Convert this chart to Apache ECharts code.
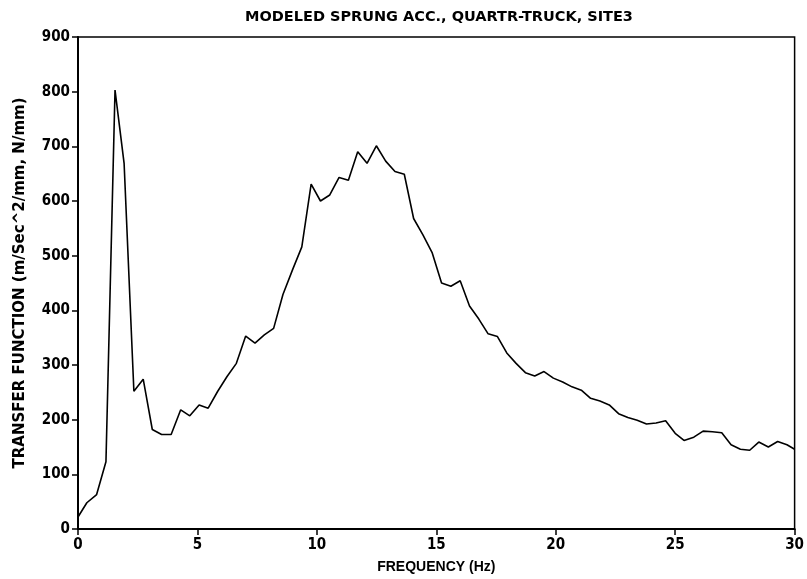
<!DOCTYPE html>
<html>
<head>
<meta charset="utf-8">
<script src="https://cdn.jsdelivr.net/npm/echarts@6/dist/echarts.min.js"></script>
<style>
html,body{margin:0;padding:0;background:#fff;}
#chart{width:807px;height:579px;}
</style>
</head>
<body>
<div id="chart"></div>
<script>
const titleText = "MODELED SPRUNG ACC., QUARTR-TRUCK, SITE3";
const xName = "FREQUENCY (Hz)";
const yName = "TRANSFER FUNCTION (m/Sec^2/mm, N/mm)";

const freq = [0, 0.37, 0.78, 1.17, 1.55, 1.93, 2.34, 2.73, 3.11, 3.5, 3.9, 4.3, 4.68, 5.07, 5.45, 5.85,
  6.24, 6.63, 7.02, 7.41, 7.8, 8.19, 8.58, 8.98, 9.37, 9.76, 10.15, 10.54, 10.93, 11.32, 11.71, 12.1,
  12.49, 12.88, 13.27, 13.66, 14.05, 14.44, 14.83, 15.22, 15.61, 16.0, 16.39, 16.78, 17.17, 17.56,
  17.95, 18.34, 18.73, 19.12, 19.51, 19.9, 20.29, 20.68, 21.07, 21.46, 21.85, 22.24, 22.63, 23.02,
  23.41, 23.8, 24.2, 24.6, 25.0, 25.37, 25.78, 26.17, 26.56, 26.95, 27.34, 27.73, 28.12, 28.5, 28.9,
  29.29, 29.68, 30.0];
const transfer = [22, 48, 63, 123, 803, 669, 252, 274, 182, 173, 173, 218, 207, 227, 221, 252,
  279, 303, 353, 340, 355, 367, 429, 474, 516, 631, 600, 611, 643, 638, 690, 669,
  701, 673, 654, 649, 568, 538, 505, 450, 444, 454, 408, 384, 357, 352,
  322, 303, 286, 280, 288, 276, 269, 260, 254, 239, 234, 227, 211, 204,
  199, 192, 194, 198, 175, 162, 168, 179, 178, 176, 154, 146, 144, 159, 150,
  160, 154, 146];
const xTicks = [0, 5, 10, 15, 20, 25, 30];
const yTicks = [0, 100, 200, 300, 400, 500, 600, 700, 800, 900];

const chart = echarts.init(document.getElementById('chart'), null, {renderer: 'canvas'});
const fontFam = '"Liberation Sans Narrow", "DejaVu Sans Condensed", "Liberation Sans", sans-serif';
const wideFam = '"Liberation Sans", Arial, sans-serif';
const djFam = '"DejaVu Sans", "Liberation Sans", sans-serif';
chart.setOption({
  animation: false,
  backgroundColor: '#fff',
  title: {
    text: titleText,
    left: 434, top: 5, textAlign: 'center',
    textStyle: {fontFamily: djFam, fontSize: 14.5, fontWeight: 'bold', color: '#000'}
  },
  grid: {
    left: 78, right: 10, top: 37, bottom: 50,
    show: true, borderColor: '#000', borderWidth: 1.5, backgroundColor: 'transparent'
  },
  xAxis: {
    type: 'value', min: 0, max: 30, interval: 5,
    name: xName, nameLocation: 'middle', nameGap: 31,
    nameTextStyle: {fontFamily: wideFam, fontSize: 14, fontWeight: 'bold', color: '#000'},
    axisLine: {show: true, lineStyle: {color: '#000', width: 2}},
    axisTick: {show: true, length: 6, lineStyle: {color: '#000', width: 1.5}},
    axisLabel: {fontFamily: fontFam, fontSize: 15, fontWeight: 'bold', color: '#000', margin: 9,
      formatter: v => xTicks.includes(v) ? String(v) : ''},
    splitLine: {show: false}
  },
  yAxis: {
    type: 'value', min: 0, max: 900, interval: 100,
    name: yName, nameLocation: 'middle', nameGap: 50, nameRotate: 90,
    nameTextStyle: {fontFamily: djFam, fontSize: 15, fontWeight: 'bold', color: '#000'},
    axisLine: {show: true, lineStyle: {color: '#000', width: 2}},
    axisTick: {show: true, length: 6, lineStyle: {color: '#000', width: 1.5}},
    axisLabel: {fontFamily: fontFam, fontSize: 15, fontWeight: 'bold', color: '#000', margin: 8,
      formatter: v => yTicks.includes(v) ? String(v) : ''},
    splitLine: {show: false}
  },
  series: [{
    type: 'line',
    data: freq.map((f, i) => [f, transfer[i]]),
    showSymbol: false,
    lineStyle: {color: '#000', width: 1.6},
    clip: true
  }]
});
</script>
</body>
</html>
